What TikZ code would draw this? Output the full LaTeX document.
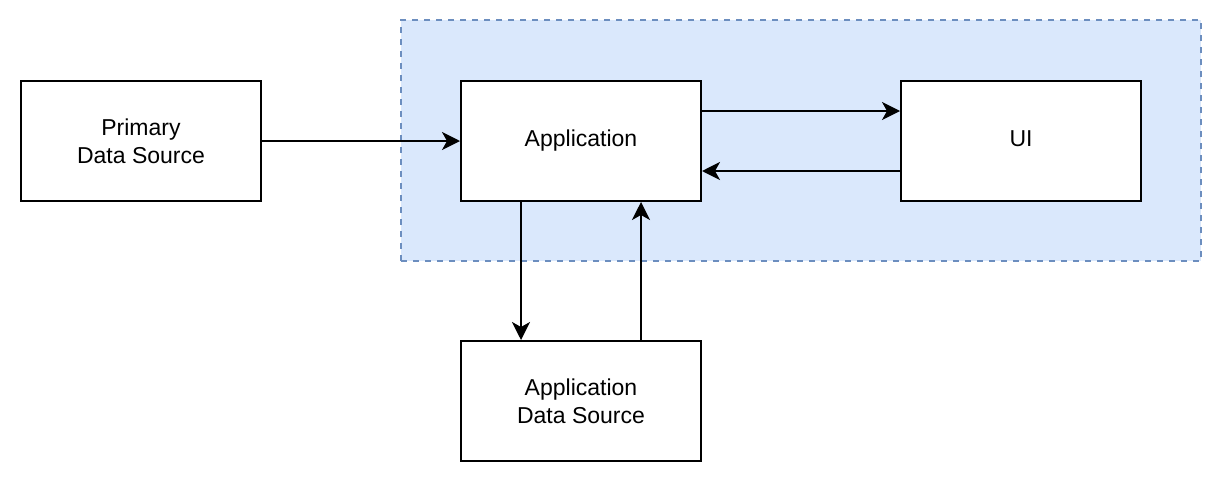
\documentclass[tikz,border=0pt]{standalone}
\usepackage{fontspec}
\setmainfont{Liberation Sans}
\usetikzlibrary{arrows.meta}
\definecolor{grpfill}{HTML}{DAE8FC}
\definecolor{grpline}{HTML}{6C8EBF}
\begin{document}
\begin{tikzpicture}[x=1pt,y=-1pt,
  box/.style={draw=black, line width=2pt, fill=white, minimum width=240pt, minimum height=120pt, align=center, inner sep=0pt, font=\fontsize{23}{28}\selectfont},
  conn/.style={line width=2pt, -{Stealth[length=18pt,width=18pt,inset=5pt]}}]
\useasboundingbox (0,0) rectangle (1222,482);
\node[draw=grpline, fill=grpfill, line width=2pt, dash pattern=on 6pt off 6pt, minimum width=800pt, minimum height=241pt, inner sep=0pt] (grp) at (801,140.5) {};
\node[box] (pds) at (141,141) {Primary\\Data Source};
\node[box] (app) at (581,141) {\strut Application};
\node[box] (ui) at (1021,141) {\strut UI};
\node[box] (ads) at (581,401) {Application\\Data Source};
\draw[conn] (pds.east) -- (app.west);
\draw[conn] ([yshift=30pt]app.east) -- ([yshift=30pt]ui.west);
\draw[conn] ([yshift=-30pt]ui.west) -- ([yshift=-30pt]app.east);
\draw[conn] ([xshift=-60pt]app.south) -- ([xshift=-60pt]ads.north);
\draw[conn] ([xshift=60pt]ads.north) -- ([xshift=60pt]app.south);
\end{tikzpicture}
\end{document}
